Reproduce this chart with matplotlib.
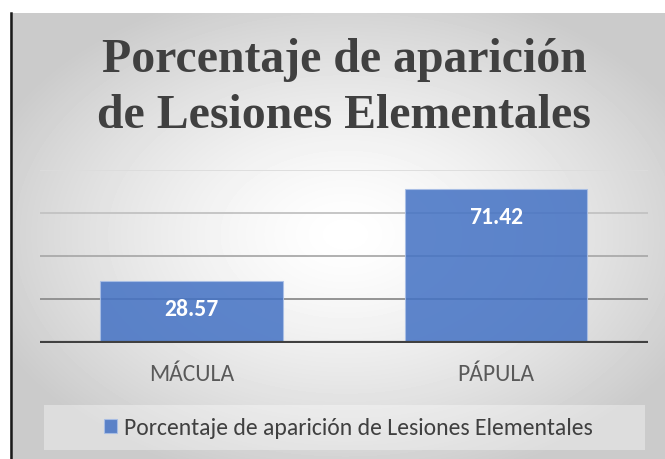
# _*_ coding: utf-8 _*_

"""
Porcentaje de aparición de Lesiones Elementales - gráfico de barras
"""

import numpy as np
import matplotlib
matplotlib.use("Agg")
import matplotlib.pyplot as plt
from matplotlib.patches import Rectangle

# datos
categorias = ["MÁCULA", "PÁPULA"]
valores = [28.57, 71.42]
serie = "Porcentaje de aparición de Lesiones Elementales"
titulo = ["Porcentaje de aparición", "de Lesiones Elementales"]
lineas_grid = [20, 40, 60, 80]

W, H = 665, 460
fig = plt.figure(figsize=(W / 100, H / 100), dpi=100)
fig.patch.set_facecolor("white")

# fondo con degradado radial (en pixeles)
ax_bg = fig.add_axes([0, 0, 1, 1])
ax_bg.set_xlim(0, W)
ax_bg.set_ylim(H, 0)
ax_bg.axis("off")
yy, xx = np.mgrid[14:H, 10:W]
d = np.sqrt(((xx - 345) / 380.0) ** 2 + ((yy - 235) / 255.0) ** 2)
d = np.clip(d, 0, 1)
gris = (255 - 52 * d ** 1.4) / 255.0
ax_bg.imshow(gris, cmap="gray", vmin=0, vmax=1, extent=[10, W, H, 14],
             aspect="auto", interpolation="bilinear")
ax_bg.plot([10.5, 10.5], [14, H], color="#1a1a1a", lw=1.8)

# titulo (dos lineas, por linea base)
for linea, yb in zip(titulo, [71.7, 128]):
    fig.text(344 / W, 1 - yb / H, linea, ha="center", va="baseline",
             family="Liberation Serif", weight="bold", fontsize=34.4,
             color="#404040")

# area de trazado
ax = fig.add_axes([39.5 / W, (H - 343.5) / H, 608.5 / W, 172.5 / H])
ax.patch.set_alpha(0)
x = np.arange(len(categorias))
colores_grid = ["#8c8c8c", "#aaaaaa", "#c2c2c2", "#dcdcdc"]
for g, c in zip(lineas_grid, colores_grid):
    ax.axhline(g, color=c, lw=1.3, zorder=1)
barras = ax.bar(x, valores, width=0.6, color="#4472c4", alpha=0.86,
                edgecolor="#a9bfe6", linewidth=0.8, zorder=2, label=serie)
ax.axhline(0, color="#404040", lw=3, zorder=3)
for xi, v in zip(x, valores):
    ax.annotate(f"{v:.2f}", xy=(xi, v), xytext=(0, -24.5), textcoords="offset points",
                ha="center", va="baseline", color="white", weight="bold",
                family="Carlito", fontsize=17, zorder=4)

ax.set_xlim(-0.5, 1.5)
ax.set_ylim(0, 80)
ax.set_yticks([])
ax.set_xticks(x)
ax.set_xticklabels(categorias, family="Carlito", fontsize=17, color="#595959")
ax.tick_params(axis="x", length=0, pad=15)
for s in ax.spines.values():
    s.set_visible(False)

# leyenda
fig.patches.append(Rectangle((44 / W, (H - 451) / H), 601 / W, 45 / H,
                             transform=fig.transFigure, facecolor="white",
                             alpha=0.35, edgecolor="none", zorder=1))
leg = fig.legend(handles=[barras], labels=[serie], loc="center",
                 bbox_to_anchor=(348 / W, 1 - 428.5 / H), frameon=False,
                 prop={"family": "Carlito", "size": 17},
                 handlelength=0.55, handleheight=0.55, handletextpad=0.3)
for t in leg.get_texts():
    t.set_color("#404040")

fig.savefig("out.png", dpi=100)
